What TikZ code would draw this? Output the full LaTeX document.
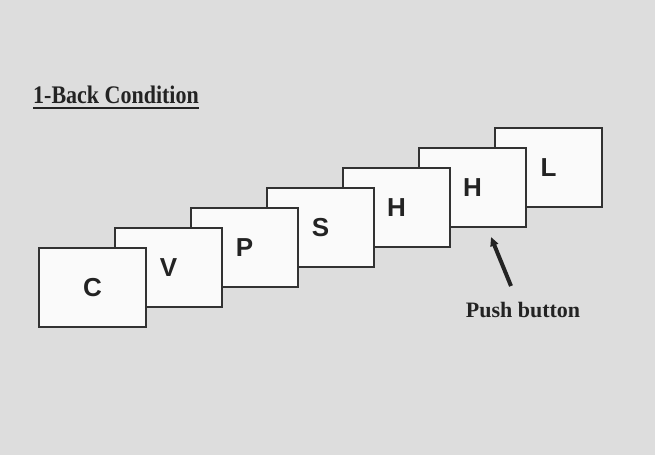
\documentclass[tikz,border=0pt]{standalone}
\usepackage{fontspec}
\setmainfont{Liberation Serif}
\newfontfamily\cardfont{Liberation Sans}
\usetikzlibrary{arrows.meta}
\definecolor{bg}{RGB}{221,221,221}
\definecolor{edge}{RGB}{50,50,50}
\definecolor{ink}{RGB}{35,35,35}
\begin{document}
\begin{tikzpicture}[x=1pt,y=-1pt,
  card/.style={draw=edge,line width=2.2pt,fill=white!98!black,minimum width=107pt,minimum height=79pt,inner sep=0pt,
    font=\cardfont\bfseries\fontsize{26}{26}\selectfont,text=ink},
  lbl/.style={font=\bfseries\fontsize{22}{22}\selectfont,text=ink,inner sep=0pt}]
\fill[bg] (0,0) rectangle (655,455);
\useasboundingbox (0,0) rectangle (655,455);
\node[card] (l)  at (548.5,167.5) {L};
\node[card] (h2) at (472.5,187.5) {H};
\node[card] (h1) at (396.5,207.5) {H};
\node[card] (s)  at (320.5,227.5) {S};
\node[card] (p)  at (244.5,247.5) {P};
\node[card] (v)  at (168.5,267.5) {V};
\node[card] (c)  at (92.5,287.5) {C};
\node[lbl,anchor=base west] (title) at (33,103) {\scalebox{1}[1.15]{1-Back Condition}};
\draw[ink,line width=2pt] ([yshift=-5pt]title.base west) -- ([yshift=-5pt]title.base east);
\node[lbl,anchor=base] (pb) at (523,317) {Push button};
\coordinate (tail) at (511,286);
\coordinate (tip) at (491,237);
\draw[ink,line width=4pt,-{Triangle[length=9pt,width=8pt]}] (tail) -- (tip);
\end{tikzpicture}
\end{document}
